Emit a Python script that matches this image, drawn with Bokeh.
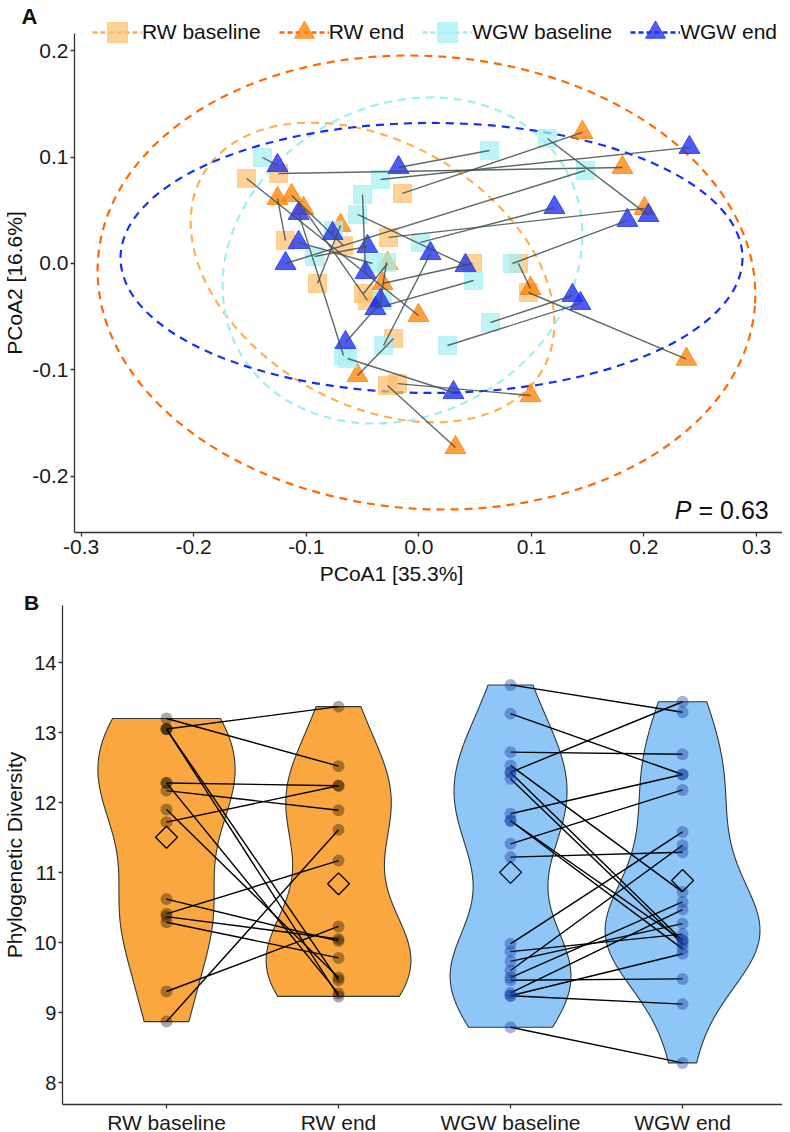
import numpy as np
from bokeh.plotting import figure
from bokeh.layouts import column
from bokeh.models import (Range1d, FixedTicker, CustomJSTickFormatter, Legend, LegendItem, Label)
from bokeh.embed import file_html
from bokeh.resources import INLINE

FONT = "Liberation Sans"

# ---------------- Panel A data (PCoA coordinates) ----------------
rw_base_pc1 = [-0.1246, -0.0145, -0.1530, -0.1184, -0.0900, -0.0269, -0.0669, -0.0491,
               -0.0456, 0.0477, 0.0885, 0.0974, -0.0225, -0.0278, -0.0189]
rw_base_pc2 = [0.0847, 0.0659, 0.0800, 0.0216, -0.0188, 0.0245, 0.0169, -0.0282,
               -0.0348, 0.0000, 0.0000, -0.0273, -0.0706, -0.1148, -0.1130]
rw_end_pc1 = [0.1809, 0.1454, -0.0003, -0.1255, -0.0695, 0.2004, -0.1130, -0.0278,
              -0.1024, -0.0322, 0.0992, 0.2377, -0.0544, 0.0326, 0.0992]
rw_end_pc2 = [0.0903, 0.1233, -0.0489, 0.0612, 0.0358, 0.0518, 0.0640, 0.0000,
              0.0518, -0.0188, -0.0235, -0.0900, -0.1054, -0.1731, -0.1242]

wgw_base_pc1 = [-0.1388, -0.0340, 0.0628, 0.1143, 0.0015, 0.0832, 0.1480, -0.0500,
                -0.0669, -0.0411, -0.0313, 0.0255, 0.0637, -0.0544, -0.0757, -0.0926,
                -0.0287, 0.0486, -0.0323, -0.0633]
wgw_base_pc2 = [0.0997, 0.0790, 0.1063, 0.1176, 0.0198, 0.0000, 0.0875, 0.0649,
                -0.0866, 0.0000, -0.0772, -0.0772, -0.0555, 0.0461, 0.0311, 0.0066,
                0.0009, -0.0160, -0.0348, -0.0894]
wgw_end_pc1 = [-0.1255, 0.2404, -0.0180, 0.2040, 0.1205, 0.1853, -0.1184, -0.0473,
               -0.1068, -0.1068, 0.0104, 0.1436, 0.1365, 0.0415, -0.0766, -0.0456,
               -0.0340, -0.0385, -0.0651, 0.0308]
wgw_end_pc2 = [0.0922, 0.1092, 0.0903, 0.0452, 0.0527, 0.0405, 0.0000, -0.0085,
               0.0471, 0.0198, 0.0094, -0.0376, -0.0301, -0.0019, 0.0282, 0.0160,
               -0.0348, -0.0423, -0.0743, -0.1214]

groups = ["RW baseline", "RW end", "WGW baseline", "WGW end"]
# 95% ellipses: centre, full width/height (data units), tilt (deg)
ellipse_cx = [-0.0411, 0.0068, -0.0145, 0.0113]
ellipse_cy = [-0.0085, -0.0179, 0.0028, 0.0052]
ellipse_w = [0.348, 0.585, 0.332, 0.5525]
ellipse_h = [0.2465, 0.426, 0.2916, 0.254]
ellipse_angle = [-30, -4, 29, 0]

pcoa1_ticks = [-0.3, -0.2, -0.1, 0.0, 0.1, 0.2, 0.3]
pcoa2_ticks = [-0.2, -0.1, 0.0, 0.1, 0.2]
p_value = "0.63"

# ---------------- Panel B data (phylogenetic diversity) ----------------
rw_pd_baseline = [13.20, 13.05, 13.05, 13.05, 12.28, 12.28, 12.17, 11.90, 11.72,
                  10.62, 10.41, 10.37, 10.29, 9.30, 8.87]
rw_pd_end = [12.52, 13.37, 9.23, 9.46, 12.24, 9.27, 11.89, 9.50, 12.24,
             10.02, 11.17, 10.05, 9.78, 10.23, 11.61]
wgw_pd_baseline = [13.68, 13.27, 12.72, 12.53, 12.43, 12.43, 12.34, 11.84, 11.74, 11.74,
                   11.41, 11.22, 9.98, 9.87, 9.73, 9.60, 9.50, 9.46, 9.28, 9.24, 9.24, 8.79]
wgw_pd_end = [13.29, 12.40, 12.69, 10.72, 13.44, 10.03, 9.98, 12.40, 10.03, 9.91,
              12.18, 11.29, 11.58, 10.12, 10.27, 11.39, 10.58, 9.48, 10.47, 9.84, 9.12, 8.28]
pd_ticks = [8, 9, 10, 11, 12, 13, 14]

# ---------------- styles ----------------
pt_fill = ["#FDBF6F", "#FF7F00", "#A6F0F4", "#2233F0"]
pt_alpha = [0.72, 0.75, 0.72, 0.8]
ell_color = ["#FDB04F", "#FF6A00", "#9CF0F2", "#1530F5"]
markers = ["square", "triangle", "square", "triangle"]
msize = [18, 21, 18, 21]


def style(p, tick_px):
    for ax in (p.xaxis, p.yaxis):
        ax.axis_line_color = "#333333"
        ax.axis_line_width = 1.3
        ax.major_tick_line_color = "#333333"
        ax.major_tick_line_width = 1.3
        ax.major_tick_in = 0
        ax.major_tick_out = 4
        ax.minor_tick_line_color = None
        ax.major_label_text_font = FONT
        ax.major_label_text_font_size = tick_px
        ax.major_label_text_color = "#1a1a1a"
        ax.axis_label_text_font = FONT
        ax.axis_label_text_font_size = "21px"
        ax.axis_label_text_font_style = "normal"
        ax.axis_label_text_color = "#111111"
    p.xgrid.visible = False
    p.ygrid.visible = False
    p.outline_line_color = None


# ================= Panel A =================
# frame covers the whole canvas width; the y axis is drawn at a fixed location
pa = figure(frame_width=782, frame_height=532,
            x_range=Range1d(-0.3716, 0.3231), y_range=Range1d(-0.2531, 0.2474),
            output_backend="svg", toolbar_location=None,
            min_border_top=0, min_border_right=0, min_border_left=0, min_border_bottom=58)
style(pa, "21px")
fmt1 = CustomJSTickFormatter(code="return tick.toFixed(1)")
pa.xaxis.ticker = FixedTicker(ticks=pcoa1_ticks)
pa.yaxis.ticker = FixedTicker(ticks=pcoa2_ticks)
pa.xaxis.formatter = fmt1
pa.yaxis.formatter = fmt1
pa.xaxis.bounds = (-0.3059, 0.3231)
pa.yaxis.bounds = (-0.2531, 0.2164)
pa.yaxis.fixed_location = -0.3059
pa.xaxis.axis_label = "PCoA1 [35.3%]"
pa.yaxis.axis_label = "PCoA2 [16.6%]"
pa.xaxis.major_label_standoff = 3
pa.xaxis.axis_label_standoff = 5
pa.yaxis.major_label_standoff = 2
pa.yaxis.axis_label_standoff = 3

for i in range(4):
    pa.ellipse(x=[ellipse_cx[i]], y=[ellipse_cy[i]], width=[ellipse_w[i]], height=[ellipse_h[i]],
               angle=[np.radians(ellipse_angle[i])], fill_color=None,
               line_color=ell_color[i], line_width=2.2, line_dash="8 6")

pts = [(rw_base_pc1, rw_base_pc2), (rw_end_pc1, rw_end_pc2),
       (wgw_base_pc1, wgw_base_pc2), (wgw_end_pc1, wgw_end_pc2)]
point_renderers = []
for i, (xs, ys) in enumerate(pts):
    r = pa.scatter(x=xs, y=ys, marker=markers[i], size=msize[i],
                   fill_color=pt_fill[i], fill_alpha=pt_alpha[i],
                   line_color=pt_fill[i], line_alpha=pt_alpha[i], line_width=1)
    point_renderers.append(r)

pa.segment(x0=rw_base_pc1, y0=rw_base_pc2, x1=rw_end_pc1, y1=rw_end_pc2,
           line_color="#3f5050", line_width=1.4, line_alpha=0.85)
pa.segment(x0=wgw_base_pc1, y0=wgw_base_pc2, x1=wgw_end_pc1, y1=wgw_end_pc2,
           line_color="#3f5050", line_width=1.4, line_alpha=0.85)

items = []
for i, g in enumerate(groups):
    # one-point line at the ellipse centre: draws nothing, only feeds the legend key
    lr = pa.line(x=[ellipse_cx[i]], y=[ellipse_cy[i]], line_color=ell_color[i],
                 line_width=2.4, line_dash="5 3")
    items.append(LegendItem(label=g, renderers=[lr, point_renderers[i]]))
legend = Legend(items=items, orientation="horizontal", location=(92, 475),
                glyph_width=50, glyph_height=50, label_height=50, label_standoff=0,
                spacing=18, padding=0, margin=0, border_line_color=None,
                background_fill_alpha=0, label_text_font=FONT,
                label_text_font_size="21px", label_text_color="#111111")
pa.add_layout(legend)

pa.add_layout(Label(x=0.2422, y=-0.2324, text="P", text_font=FONT, text_font_size="25px",
                    text_font_style="italic", text_align="right", text_baseline="middle",
                    text_color="#111111"))
pa.add_layout(Label(x=0.2485, y=-0.2324, text="= " + p_value, text_font=FONT,
                    text_font_size="25px", text_align="left", text_baseline="middle",
                    text_color="#111111"))
pa.add_layout(Label(x=-0.3458, y=0.2324, text="A", text_font=FONT, text_font_size="22px",
                    text_font_style="bold", text_align="center", text_baseline="middle",
                    text_color="#111111"))

# ================= Panel B =================
pb = figure(frame_width=782, frame_height=514,
            x_range=Range1d(0.0349, 4.581), y_range=Range1d(7.686, 15.029),
            output_backend="svg", toolbar_location=None,
            min_border_top=0, min_border_right=0, min_border_left=0, min_border_bottom=28)
style(pb, "20px")
pb.xaxis.ticker = FixedTicker(ticks=[1, 2, 3, 4])
pb.xaxis.major_label_overrides = {1: groups[0], 2: groups[1], 3: groups[2], 4: groups[3]}
pb.xaxis.major_label_text_font_size = "21px"
pb.xaxis.bounds = (0.3953, 4.581)
pb.yaxis.ticker = FixedTicker(ticks=pd_ticks)
pb.yaxis.bounds = (7.686, 14.81)
pb.yaxis.fixed_location = 0.3953
pb.yaxis.axis_label = "Phylogenetic Diversity"
pb.xaxis.major_label_standoff = 2
pb.yaxis.major_label_standoff = 2
pb.yaxis.axis_label_standoff = 5

pd_groups = [rw_pd_baseline, rw_pd_end, wgw_pd_baseline, wgw_pd_end]
violin_fill = ["#F9A73E", "#F9A73E", "#8DC6F7", "#8DC6F7"]
pt_color_b = ["#1a0d00", "#1a0d00", "#12389c", "#12389c"]
pt_alpha_b = [0.36, 0.36, 0.38, 0.38]


def kde(vals, grid):
    v = np.asarray(vals, dtype=float)
    n = len(v)
    sd = v.std(ddof=1)
    q75, q25 = np.percentile(v, [75, 25])
    bw = 0.9 * min(sd, (q75 - q25) / 1.34) * n ** -0.2
    z = (grid[:, None] - v[None, :]) / bw
    return np.exp(-0.5 * z ** 2).sum(axis=1) / (n * bw * np.sqrt(2 * np.pi))


grids, dens = [], []
for vals in pd_groups:
    g = np.linspace(min(vals), max(vals), 256)
    grids.append(g)
    dens.append(kde(vals, g))
dmax = max(d.max() for d in dens)

for i in range(4):
    hw = 0.45 * dens[i] / dmax
    cx = i + 1
    xs = np.concatenate([cx - hw, (cx + hw)[::-1]])
    ys = np.concatenate([grids[i], grids[i][::-1]])
    pb.patch(x=xs, y=ys, fill_color=violin_fill[i], fill_alpha=1.0,
             line_color="#2b3a3a", line_width=1.1)

pairs = [(rw_pd_baseline, rw_pd_end, 1), (wgw_pd_baseline, wgw_pd_end, 3)]
for base, end, c in pairs:
    pb.segment(x0=[c] * len(base), y0=base, x1=[c + 1] * len(end), y1=end,
               line_color="#000000", line_width=1.4)

for i, vals in enumerate(pd_groups):
    pb.scatter(x=[i + 1] * len(vals), y=vals, marker="circle", size=12,
               fill_color=pt_color_b[i], fill_alpha=pt_alpha_b[i], line_color=None)

means = [float(np.mean(v)) for v in pd_groups]
pb.scatter(x=[1, 2, 3, 4], y=means, marker="square", size=15.5, angle=np.pi / 4,
           fill_color=None, line_color="#000000", line_width=1.3)

pb.add_layout(Label(x=0.215, y=15.021, text="B", text_font=FONT, text_font_size="21px",
                    text_font_style="bold", text_align="center", text_baseline="top",
                    text_color="#111111"))

layout = column(pa, pb, spacing=0)
open("out.html", "w").write(file_html(layout, INLINE))
